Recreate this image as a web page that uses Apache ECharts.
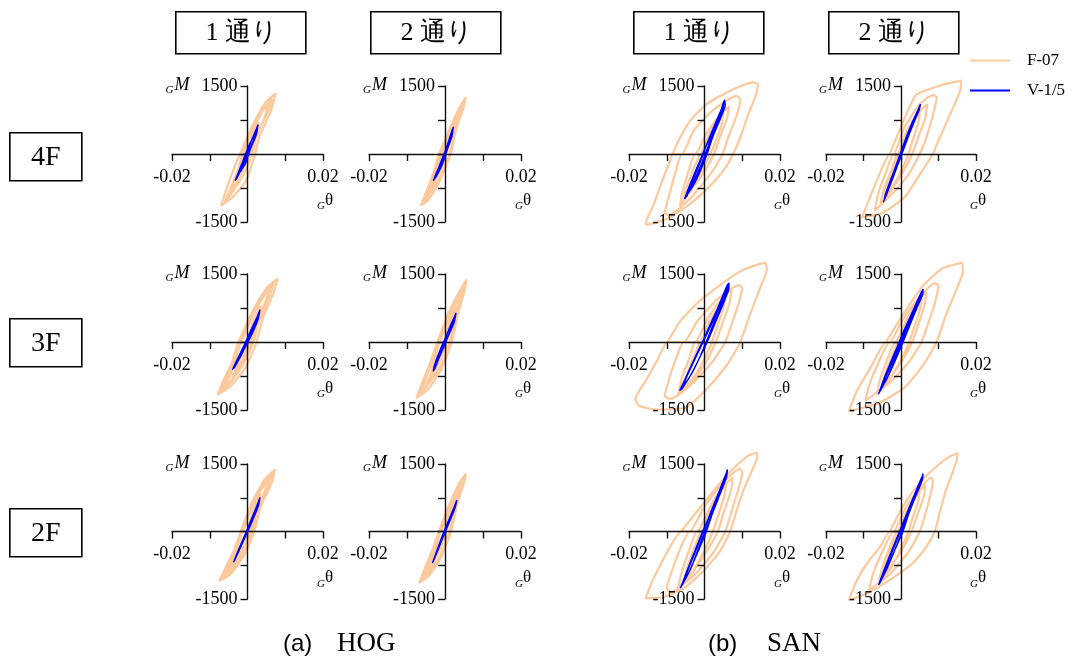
<!DOCTYPE html>
<html>
<head>
<meta charset="utf-8">
<script src="https://cdn.jsdelivr.net/npm/echarts@6/dist/echarts.min.js"></script>
<style>
  html, body { margin: 0; padding: 0; background: #fff; }
  #chart { width: 1076px; height: 661px; }
</style>
</head>
<body>
<div id="chart"></div>
<script>
// ---- labels ----
const columnTitles = ['1 通り', '2 通り', '1 通り', '2 通り'];
const floorLabels = ['4F', '3F', '2F'];
const groupCaptions = [['(a)', 'HOG'], ['(b)', 'SAN']];
const seriesNames = ['F-07', 'V-1/5'];
const thetaTickLabels = ['-0.02', '0.02'];
const momentTickLabels = ['-1500', '1500'];
const thetaRange = [-0.02, 0.02, 0.01];
const momentRange = [-1500, 1500, 750];

// ---- hysteresis traces [θ, M] ----
// HOG, 1通り
const hog1_4F_f07 = [[-0.0020,0],[0.0013,625],[0.0048,1140],[0.0075,1338],[0.0062,950],[0.0031,370],[0.0020,0],[-0.0004,-590],[-0.0040,-955],[-0.0070,-1140],[-0.0048,-590],[-0.0020,0],
  [0.0000,300],[0.0035,900],[0.0055,1120],[0.0045,800],[0.0012,150],[-0.0015,-400],[-0.0050,-960],[-0.0035,-600],[-0.0012,-120],[0.0000,300],
  [-0.0012,0],[0.0010,450],[0.0040,950],[0.0065,1220],[0.0055,950],[0.0025,420],[0.0012,0],[-0.0010,-450],[-0.0045,-900],[-0.0060,-1050],[-0.0042,-700],[-0.0025,-350],[-0.0012,0],
  [-0.0005,0],[0.0015,420],[0.0030,700],[0.0022,450],[0.0005,0],[-0.0015,-380],[-0.0030,-650],[-0.0020,-400],[-0.0005,0]];
const hog1_4F_v15 = [[-0.0033,-590],[-0.0012,-150],[0.0004,200],[0.0016,380],[0.0028,650],[0.0023,420],[0.0008,120],[-0.0006,-220],[-0.0020,-400],[-0.0033,-590],
  [-0.0025,-470],[-0.0005,-60],[0.0012,330],[0.0022,520],[0.0016,300],[0.0000,0],[-0.0015,-320],[-0.0025,-470],
  [-0.0030,-560],[-0.0008,-120],[0.0008,250],[0.0026,600],[0.0020,400],[0.0004,60],[-0.0012,-260],[-0.0030,-560]];
const hog1_3F_f07 = [[-0.0024,0],[0.0010,620],[0.0050,1180],[0.0079,1397],[0.0070,1100],[0.0040,520],[0.0024,0],[-0.0005,-560],[-0.0045,-980],[-0.0079,-1160],[-0.0060,-780],[-0.0040,-420],[-0.0024,0],
  [-0.0010,200],[0.0030,850],[0.0060,1230],[0.0050,950],[0.0020,330],[0.0005,-120],[-0.0030,-700],[-0.0065,-1070],[-0.0045,-720],[-0.0010,200],
  [-0.0016,0],[0.0015,600],[0.0050,1100],[0.0070,1300],[0.0058,1000],[0.0028,420],[0.0016,0],[-0.0012,-500],[-0.0050,-950],[-0.0070,-1100],[-0.0050,-700],[-0.0030,-320],[-0.0016,0],
  [-0.0006,0],[0.0015,450],[0.0035,800],[0.0026,500],[0.0006,0],[-0.0018,-450],[-0.0040,-780],[-0.0026,-480],[-0.0006,0]];
const hog1_3F_v15 = [[-0.0040,-610],[-0.0020,-280],[0.0000,50],[0.0018,380],[0.0033,713],[0.0028,500],[0.0012,180],[-0.0008,-150],[-0.0025,-420],[-0.0040,-610],
  [-0.0030,-430],[-0.0010,-90],[0.0010,280],[0.0026,560],[0.0020,380],[0.0003,60],[-0.0018,-320],[-0.0032,-520],
  [-0.0036,-580],[-0.0016,-220],[0.0004,130],[0.0022,460],[0.0030,650],[0.0024,440],[0.0006,100],[-0.0014,-250],[-0.0036,-580]];
const hog1_2F_f07 = [[-0.0018,0],[0.0012,650],[0.0045,1150],[0.0073,1375],[0.0065,1100],[0.0035,550],[0.0018,0],[-0.0008,-520],[-0.0045,-950],[-0.0075,-1100],[-0.0055,-750],[-0.0035,-400],[-0.0018,0],
  [-0.0006,200],[0.0030,850],[0.0058,1180],[0.0045,880],[0.0018,330],[0.0002,-100],[-0.0030,-650],[-0.0062,-1000],[-0.0040,-650],[-0.0006,200],
  [-0.0012,0],[0.0015,600],[0.0048,1100],[0.0066,1300],[0.0055,1000],[0.0026,450],[0.0012,0],[-0.0012,-480],[-0.0048,-920],[-0.0068,-1060],[-0.0048,-700],[-0.0028,-330],[-0.0012,0],
  [-0.0004,0],[0.0015,450],[0.0035,850],[0.0026,550],[0.0006,0],[-0.0016,-420],[-0.0040,-750],[-0.0026,-450],[-0.0004,0]];
const hog1_2F_v15 = [[-0.0037,-683],[-0.0018,-330],[0.0000,20],[0.0018,400],[0.0033,757],[0.0030,600],[0.0014,260],[-0.0004,-80],[-0.0022,-420],[-0.0037,-683],
  [-0.0025,-430],[-0.0006,-60],[0.0012,300],[0.0028,640],
  [-0.0034,-640],[-0.0014,-260],[0.0004,100],[0.0020,440],[0.0032,720],[0.0026,520],[0.0008,140],[-0.0012,-220],[-0.0034,-640]];
// HOG, 2通り
const hog2_4F_f07 = [[-0.0016,0],[0.0020,700],[0.0043,1100],[0.0055,1250],[0.0048,1000],[0.0030,580],[0.0015,0],[-0.0020,-700],[-0.0045,-1020],[-0.0064,-1140],[-0.0050,-850],[-0.0032,-450],[-0.0016,0],
  [-0.0005,200],[0.0025,780],[0.0040,1000],[0.0028,650],[0.0008,150],[-0.0020,-500],[-0.0048,-930],[-0.0030,-550],[-0.0005,200],
  [-0.0010,0],[0.0018,600],[0.0048,1150],[0.0040,900],[0.0012,0],[-0.0015,-550],[-0.0055,-1050],[-0.0040,-750],[-0.0010,0],
  [-0.0004,100],[0.0012,450],[0.0028,750],[0.0020,480],[0.0004,0],[-0.0015,-420],[-0.0032,-700],[-0.0020,-400],[-0.0004,100]];
const hog2_4F_v15 = [[-0.0031,-590],[-0.0012,-200],[0.0003,120],[0.0014,350],[0.0022,600],[0.0018,380],[0.0006,100],[-0.0008,-250],[-0.0022,-480],[-0.0031,-590],
  [-0.0020,-360],[0.0000,50],[0.0015,420],[0.0010,220],[-0.0010,-200],[-0.0025,-500],
  [-0.0028,-540],[-0.0006,-80],[0.0010,300],[0.0020,560],[0.0014,320],[-0.0004,-100],[-0.0018,-380],[-0.0028,-540]];
const hog2_3F_f07 = [[-0.0020,0],[0.0010,650],[0.0040,1150],[0.0057,1375],[0.0052,1150],[0.0035,650],[0.0018,0],[-0.0010,-600],[-0.0045,-1050],[-0.0075,-1235],[-0.0060,-900],[-0.0040,-480],[-0.0020,0],
  [-0.0008,250],[0.0022,850],[0.0045,1180],[0.0035,850],[0.0010,200],[-0.0015,-450],[-0.0055,-1050],[-0.0035,-650],[-0.0008,250],
  [-0.0014,0],[0.0014,600],[0.0040,1050],[0.0052,1250],[0.0044,950],[0.0026,480],[0.0012,0],[-0.0014,-560],[-0.0050,-1000],[-0.0066,-1150],[-0.0048,-750],[-0.0030,-350],[-0.0014,0],
  [-0.0005,0],[0.0012,420],[0.0030,800],[0.0022,500],[0.0005,0],[-0.0016,-450],[-0.0036,-800],[-0.0024,-480],[-0.0005,0]];
const hog2_3F_v15 = [[-0.0031,-647],[-0.0024,-420],[-0.0008,-80],[0.0010,260],[0.0029,640],[0.0024,430],[0.0008,120],[-0.0010,-230],[-0.0020,-430],[-0.0031,-647],
  [-0.0028,-520],[-0.0012,-180],[0.0006,180],[0.0020,460],[0.0016,300],[-0.0002,-60],[-0.0018,-380],[-0.0030,-600],
  [-0.0029,-620],[-0.0020,-440],[-0.0004,-40],[0.0014,360],[0.0026,580],[0.0020,380],[0.0002,0],[-0.0014,-320],[-0.0029,-620]];
const hog2_2F_f07 = [[-0.0016,0],[0.0012,620],[0.0038,1080],[0.0055,1286],[0.0050,1080],[0.0032,600],[0.0016,0],[-0.0012,-600],[-0.0042,-980],[-0.0068,-1140],[-0.0052,-800],[-0.0034,-420],[-0.0016,0],
  [-0.0005,250],[0.0022,800],[0.0042,1100],[0.0032,780],[0.0008,180],[-0.0015,-420],[-0.0052,-1000],[-0.0032,-600],[-0.0005,250],
  [-0.0010,0],[0.0016,600],[0.0040,1050],[0.0050,1200],[0.0044,980],[0.0026,520],[0.0012,0],[-0.0014,-560],[-0.0045,-950],[-0.0060,-1080],[-0.0044,-750],[-0.0028,-380],[-0.0010,0],
  [-0.0004,0],[0.0012,450],[0.0028,780],[0.0020,500],[0.0004,0],[-0.0016,-450],[-0.0034,-760],[-0.0022,-450],[-0.0004,0]];
const hog2_2F_v15 = [[-0.0033,-698],[-0.0016,-340],[0.0000,20],[0.0016,360],[0.0031,698],[0.0027,540],[0.0012,220],[-0.0004,-100],[-0.0020,-440],[-0.0033,-698],
  [-0.0022,-440],[-0.0004,-30],[0.0014,340],[0.0026,580],
  [-0.0031,-660],[-0.0012,-260],[0.0004,90],[0.0020,440],[0.0030,670],[0.0024,480],[0.0008,140],[-0.0010,-220],[-0.0031,-660]];
// SAN, 1通り
const san1_4F_f07 = [[-0.0085,0],[-0.0069,294],[-0.0038,735],[0.0006,1102],[0.0068,1396],[0.0129,1580],[0.0142,1543],[0.0134,1250],[0.0116,882],[0.0098,441],[0.0076,0],[0.0050,-368],[0.0015,-698],[-0.0038,-1102],[-0.0091,-1396],[-0.0152,-1558],[-0.0156,-1540],[-0.0134,-1102],[-0.0112,-588],[-0.0091,-147],[-0.0085,0],
  [-0.0060,0],[-0.0030,500],[0.0020,950],[0.0085,1280],[0.0095,1200],[0.0085,850],[0.0060,300],[0.0048,0],[0.0015,-450],[-0.0040,-1000],[-0.0095,-1350],[-0.0105,-1300],[-0.0090,-800],[-0.0075,-350],[-0.0060,0],
  [-0.0025,0],[0.0005,450],[0.0040,850],[0.0065,1050],[0.0060,800],[0.0040,350],[0.0025,0],[-0.0005,-450],[-0.0040,-850],[-0.0065,-1150],[-0.0060,-900],[-0.0045,-450],[-0.0025,0],
  [-0.0012,0],[0.0010,380],[0.0035,750],[0.0050,900],[0.0045,650],[0.0028,250],[0.0015,0],[-0.0008,-400],[-0.0035,-800],[-0.0055,-1000],[-0.0048,-750],[-0.0030,-350],[-0.0012,0]];
const san1_4F_v15 = [[-0.0053,-992],[-0.0040,-700],[-0.0015,-200],[0.0000,100],[0.0020,450],[0.0040,850],[0.0053,1190],[0.0055,1080],[0.0042,780],[0.0020,330],[0.0007,0],[-0.0010,-350],[-0.0030,-700],[-0.0050,-950],
  [-0.0046,-920],[-0.0030,-560],[-0.0010,-150],[0.0010,300],[0.0030,700],[0.0048,1050],[0.0040,800],[0.0020,400],[0.0000,-50],[-0.0020,-450],[-0.0040,-800],[-0.0053,-992],
  [-0.0050,-960],[-0.0035,-650],[-0.0012,-180],[0.0005,200],[0.0025,580],[0.0045,950],[0.0052,1150],[0.0046,900],[0.0028,550],[0.0012,150],[-0.0008,-300],[-0.0028,-640],[-0.0050,-960]];
const san1_3F_f07 = [[-0.0098,0],[-0.0065,450],[-0.0020,850],[0.0040,1250],[0.0100,1580],[0.0160,1746],[0.0165,1600],[0.0150,1250],[0.0120,600],[0.0095,0],[0.0060,-500],[0.0010,-1000],[-0.0050,-1450],[-0.0130,-1490],[-0.0175,-1400],[-0.0183,-1250],[-0.0155,-850],[-0.0125,-400],[-0.0098,0],
  [-0.0055,0],[-0.0020,450],[0.0035,950],[0.0090,1250],[0.0100,1200],[0.0092,900],[0.0070,350],[0.0055,0],[0.0020,-450],[-0.0030,-900],[-0.0090,-1250],[-0.0105,-1200],[-0.0095,-850],[-0.0075,-350],[-0.0055,0],
  [-0.0025,0],[0.0010,550],[0.0050,1000],[0.0072,1150],[0.0066,850],[0.0045,350],[0.0030,0],[0.0000,-500],[-0.0040,-950],[-0.0070,-1150],[-0.0060,-800],[-0.0040,-350],[-0.0025,0],
  [-0.0012,0],[0.0010,400],[0.0038,800],[0.0055,1000],[0.0050,750],[0.0032,300],[0.0020,0],[-0.0005,-450],[-0.0035,-850],[-0.0058,-1050],[-0.0048,-750],[-0.0030,-350],[-0.0012,0]];
const san1_3F_v15 = [[-0.0066,-1077],[-0.0045,-700],[-0.0020,-250],[0.0000,100],[0.0025,550],[0.0045,950],[0.0060,1250],[0.0065,1300],[0.0064,1150],[0.0050,850],[0.0030,450],[0.0010,50],[-0.0015,-380],[-0.0040,-780],[-0.0062,-1060],
  [-0.0050,-820],[-0.0025,-350],[0.0000,80],[0.0025,500],[0.0048,950],[0.0058,1200],[0.0052,1000],
  [-0.0064,-1060],[-0.0040,-620],[-0.0012,-130],[0.0012,330],[0.0038,800],[0.0056,1150],[0.0064,1280],[0.0058,1080],[0.0040,700],[0.0018,280],[-0.0008,-250],[-0.0034,-700],[-0.0064,-1060]];
const san1_2F_f07 = [[-0.0062,0],[-0.0011,540],[0.0033,990],[0.0068,1330],[0.0112,1665],[0.0138,1755],[0.0140,1650],[0.0130,1440],[0.0103,915],[0.0085,465],[0.0068,0],[0.0041,-435],[-0.0003,-885],[-0.0055,-1260],[-0.0108,-1455],[-0.0156,-1485],[-0.0139,-1110],[-0.0112,-660],[-0.0082,-210],[-0.0062,0],
  [-0.0040,0],[0.0000,550],[0.0050,1100],[0.0095,1400],[0.0100,1300],[0.0090,950],[0.0070,400],[0.0055,0],[0.0025,-450],[-0.0025,-950],[-0.0090,-1350],[-0.0100,-1250],[-0.0085,-850],[-0.0065,-400],[-0.0040,0],
  [-0.0020,0],[0.0015,550],[0.0050,1000],[0.0075,1200],[0.0070,900],[0.0050,400],[0.0035,0],[0.0005,-450],[-0.0040,-1000],[-0.0070,-1250],[-0.0060,-900],[-0.0040,-400],[-0.0020,0],
  [-0.0010,0],[0.0015,450],[0.0040,850],[0.0058,1050],[0.0052,780],[0.0035,320],[0.0022,0],[-0.0002,-450],[-0.0032,-900],[-0.0055,-1150],[-0.0046,-800],[-0.0028,-380],[-0.0010,0]];
const san1_2F_v15 = [[-0.0064,-1260],[-0.0045,-880],[-0.0020,-350],[0.0000,60],[0.0025,600],[0.0045,1000],[0.0061,1380],[0.0058,1200],[0.0042,850],[0.0020,380],[0.0005,0],[-0.0020,-500],[-0.0042,-920],[-0.0062,-1230],
  [-0.0050,-950],[-0.0025,-420],[-0.0005,0],[0.0020,480],[0.0040,880],[0.0058,1300],
  [-0.0062,-1230],[-0.0040,-780],[-0.0014,-230],[0.0010,280],[0.0034,780],[0.0052,1180],[0.0060,1340],[0.0050,1060],[0.0030,620],[0.0010,180],[-0.0014,-330],[-0.0036,-820],[-0.0062,-1230]];
// SAN, 2通り
const san2_4F_f07 = [[-0.0030,0],[-0.0005,500],[0.0040,1300],[0.0100,1500],[0.0160,1617],[0.0158,1400],[0.0135,950],[0.0100,300],[0.0085,0],[0.0050,-450],[0.0010,-950],[-0.0050,-1300],[-0.0104,-1397],[-0.0080,-900],[-0.0050,-300],[-0.0030,0],
  [-0.0020,0],[0.0010,600],[0.0050,1100],[0.0085,1300],[0.0095,1250],[0.0085,850],[0.0065,300],[0.0050,0],[0.0020,-450],[-0.0020,-850],[-0.0070,-1250],[-0.0060,-850],[-0.0040,-400],[-0.0020,0],
  [-0.0010,0],[0.0015,500],[0.0045,900],[0.0070,1100],[0.0065,800],[0.0045,350],[0.0030,0],[0.0005,-400],[-0.0030,-850],[-0.0055,-1100],[-0.0045,-750],[-0.0025,-350],[-0.0010,0],
  [-0.0005,0],[0.0015,420],[0.0035,750],[0.0050,900],[0.0045,650],[0.0030,280],[0.0020,0],[0.0000,-380],[-0.0025,-750],[-0.0045,-1000],[-0.0038,-700],[-0.0020,-300],[-0.0005,0]];
const san2_4F_v15 = [[-0.0047,-1066],[-0.0030,-650],[-0.0010,-200],[0.0005,150],[0.0025,600],[0.0045,950],[0.0052,1102],[0.0048,960],[0.0030,620],[0.0010,200],[-0.0005,-150],[-0.0025,-600],[-0.0045,-1000],
  [-0.0040,-850],[-0.0020,-400],[0.0000,50],[0.0020,500],[0.0040,850],
  [-0.0045,-1020],[-0.0028,-600],[-0.0008,-150],[0.0010,260],[0.0030,700],[0.0050,1060],[0.0042,850],[0.0024,480],[0.0004,40],[-0.0018,-450],[-0.0038,-880],[-0.0045,-1020]];
const san2_3F_f07 = [[-0.0040,0],[0.0005,600],[0.0060,1250],[0.0110,1620],[0.0163,1746],[0.0165,1550],[0.0150,1200],[0.0120,600],[0.0095,0],[0.0060,-500],[0.0010,-1000],[-0.0060,-1350],[-0.0139,-1523],[-0.0117,-1070],[-0.0081,-560],[-0.0040,0],
  [-0.0030,0],[0.0005,500],[0.0050,1000],[0.0090,1300],[0.0100,1250],[0.0090,850],[0.0070,350],[0.0055,0],[0.0020,-450],[-0.0030,-900],[-0.0095,-1300],[-0.0085,-950],[-0.0060,-450],[-0.0030,0],
  [-0.0015,0],[0.0015,500],[0.0050,950],[0.0068,1100],[0.0062,800],[0.0045,350],[0.0030,0],[0.0000,-450],[-0.0040,-900],[-0.0065,-1150],[-0.0055,-800],[-0.0035,-350],[-0.0015,0],
  [-0.0008,0],[0.0015,420],[0.0040,800],[0.0055,950],[0.0050,700],[0.0034,300],[0.0022,0],[0.0000,-400],[-0.0030,-820],[-0.0052,-1050],[-0.0044,-750],[-0.0025,-320],[-0.0008,0]];
const san2_3F_v15 = [[-0.0060,-1152],[-0.0040,-700],[-0.0015,-200],[0.0005,200],[0.0030,650],[0.0050,1000],[0.0059,1167],[0.0058,1050],[0.0045,800],[0.0025,400],[0.0008,50],[-0.0015,-400],[-0.0040,-850],[-0.0058,-1100],
  [-0.0045,-800],[-0.0020,-300],[0.0000,80],[0.0025,550],[0.0045,900],[0.0055,1100],
  [-0.0058,-1120],[-0.0035,-620],[-0.0010,-120],[0.0012,320],[0.0035,750],[0.0055,1120],[0.0050,950],[0.0032,600],[0.0012,200],[-0.0010,-250],[-0.0035,-760],[-0.0058,-1120]];
const san2_2F_f07 = [[-0.0030,0],[0.0005,560],[0.0050,1080],[0.0095,1450],[0.0130,1670],[0.0151,1746],[0.0149,1600],[0.0140,1370],[0.0120,930],[0.0103,410],[0.0090,0],[0.0068,-335],[0.0032,-700],[-0.0029,-1070],[-0.0090,-1370],[-0.0139,-1523],[-0.0117,-1070],[-0.0090,-700],[-0.0055,-330],[-0.0030,0],
  [-0.0020,0],[0.0010,500],[0.0050,950],[0.0080,1200],[0.0085,1100],[0.0075,700],[0.0060,250],[0.0050,0],[0.0020,-450],[-0.0030,-950],[-0.0085,-1300],[-0.0075,-950],[-0.0050,-450],[-0.0020,0],
  [-0.0010,0],[0.0015,450],[0.0045,850],[0.0065,1050],[0.0060,750],[0.0042,330],[0.0028,0],[0.0000,-450],[-0.0035,-850],[-0.0060,-1150],[-0.0050,-800],[-0.0030,-350],[-0.0010,0],
  [-0.0005,0],[0.0015,400],[0.0035,750],[0.0050,900],[0.0045,650],[0.0030,280],[0.0020,0],[-0.0002,-420],[-0.0030,-850],[-0.0050,-1050],[-0.0042,-750],[-0.0024,-330],[-0.0005,0]];
const san2_2F_v15 = [[-0.0060,-1189],[-0.0040,-780],[-0.0015,-250],[0.0005,180],[0.0030,700],[0.0050,1080],[0.0059,1285],[0.0056,1120],[0.0040,800],[0.0020,380],[0.0005,0],[-0.0020,-480],[-0.0042,-900],[-0.0059,-1170],
  [-0.0045,-850],[-0.0020,-330],[0.0000,80],[0.0025,600],[0.0045,980],[0.0057,1230],
  [-0.0058,-1170],[-0.0036,-680],[-0.0010,-130],[0.0012,330],[0.0036,820],[0.0055,1200],[0.0050,1030],[0.0032,640],[0.0012,220],[-0.0010,-280],[-0.0036,-800],[-0.0058,-1170]];

// panel table: [column, row, F-07 trace, V-1/5 trace]
const panels = [
  [0, 0, hog1_4F_f07, hog1_4F_v15], [1, 0, hog2_4F_f07, hog2_4F_v15], [2, 0, san1_4F_f07, san1_4F_v15], [3, 0, san2_4F_f07, san2_4F_v15],
  [0, 1, hog1_3F_f07, hog1_3F_v15], [1, 1, hog2_3F_f07, hog2_3F_v15], [2, 1, san1_3F_f07, san1_3F_v15], [3, 1, san2_3F_f07, san2_3F_v15],
  [0, 2, hog1_2F_f07, hog1_2F_v15], [1, 2, hog2_2F_f07, hog2_2F_v15], [2, 2, san1_2F_f07, san1_2F_v15], [3, 2, san2_2F_f07, san2_2F_v15]
];

// ---- layout ----
const colLeft = [172, 369, 629, 826];
const colWidth = [151, 152, 151, 150];
const rowTop = [86, 274, 464];
const rowHeight = [136, 136, 135];
const titleBoxLeft = [175, 370, 633, 828];
const floorBoxTop = [132, 318, 508];
const captionLeft = [[283, 337], [708, 767]];

const SERIF = '"Liberation Serif", "Times New Roman", serif';
const SANS = '"Liberation Sans", Arial, sans-serif';
const PEACH = '#FCC99C';
const BLUE = '#0000FF';

const grids = [], xAxes = [], yAxes = [], series = [], graphics = [];

panels.forEach(([c, r, f07, v15], i) => {
  grids.push({ left: colLeft[c], top: rowTop[r], width: colWidth[c], height: rowHeight[r] });
  // both axes pass through the origin, which sits at the middle of the symmetric ranges;
  // axes are layered between the F-07 loops (below) and the V-1/5 loops (above)
  xAxes.push({
    gridIndex: i, type: 'value', min: thetaRange[0], max: thetaRange[1], interval: thetaRange[2],
    position: 'bottom', offset: -rowHeight[r] / 2, z: 2,
    axisLine: { onZero: false, lineStyle: { color: '#111', width: 1.4 } },
    axisTick: { length: 7, lineStyle: { color: '#111', width: 1.4 } },
    splitLine: { show: false },
    axisLabel: {
      color: '#000', fontFamily: SERIF, fontSize: 18, margin: 14,
      formatter: v => Math.abs(v - thetaRange[0]) < 1e-9 ? thetaTickLabels[0] : (Math.abs(v - thetaRange[1]) < 1e-9 ? thetaTickLabels[1] : '')
    }
  });
  yAxes.push({
    gridIndex: i, type: 'value', min: momentRange[0], max: momentRange[1], interval: momentRange[2],
    position: 'left', offset: -colWidth[c] / 2, z: 2,
    axisLine: { onZero: false, lineStyle: { color: '#111', width: 1.4 } },
    axisTick: { length: 7, lineStyle: { color: '#111', width: 1.4 } },
    splitLine: { show: false },
    axisLabel: {
      color: '#000', fontFamily: SERIF, fontSize: 18, margin: 10,
      formatter: v => v === momentRange[0] ? momentTickLabels[0] : (v === momentRange[1] ? momentTickLabels[1] : '')
    }
  });
  series.push({
    name: seriesNames[0], type: 'line', xAxisIndex: i, yAxisIndex: i, data: f07,
    smooth: 0.18, symbol: 'none', showSymbol: false, clip: false, z: 1,
    lineStyle: { color: PEACH, width: 2.2 }, itemStyle: { color: PEACH }
  });
  series.push({
    name: seriesNames[1], type: 'line', xAxisIndex: i, yAxisIndex: i, data: v15,
    smooth: 0.18, symbol: 'none', showSymbol: false, clip: false, z: 3,
    lineStyle: { color: BLUE, width: 1.4 }, itemStyle: { color: BLUE }
  });

  // axis names: _G M beside the top of the moment axis, _G θ under the right end of the rotation axis
  const axisX = colLeft[c] + colWidth[c] / 2;
  const axisY = rowTop[r] + rowHeight[r] / 2;
  const right = colLeft[c] + colWidth[c];
  graphics.push(
    { type: 'text', left: axisX - 82, top: rowTop[r] - 1, z: 10,
      style: { text: 'G', font: 'italic 11px ' + SERIF, fill: '#000' } },
    { type: 'text', left: axisX - 73, top: rowTop[r] - 10, z: 10,
      style: { text: 'M', font: 'italic 18px ' + SERIF, fill: '#000' } },
    { type: 'text', left: right - 6, top: axisY + 47, z: 10,
      style: { text: 'G', font: 'italic 11px ' + SERIF, fill: '#000' } },
    { type: 'text', left: right + 2, top: axisY + 38, z: 10,
      style: { text: 'θ', font: '17px ' + SERIF, fill: '#000' } }
  );
});

// column header boxes
columnTitles.forEach((t, k) => {
  graphics.push({
    type: 'group', left: titleBoxLeft[k], top: 11,
    children: [
      { type: 'rect', shape: { x: 0, y: 0, width: 130, height: 42 }, style: { fill: '#fff', stroke: '#000', lineWidth: 1.6 } },
      { type: 'text', x: 66, y: 21, style: { text: t, font: '26px ' + SERIF, fill: '#000', textAlign: 'center', textVerticalAlign: 'middle' } }
    ]
  });
});

// floor boxes
floorLabels.forEach((t, k) => {
  graphics.push({
    type: 'group', left: 9, top: floorBoxTop[k],
    children: [
      { type: 'rect', shape: { x: 0, y: 0, width: 72, height: 48 }, style: { fill: '#fff', stroke: '#000', lineWidth: 1.6 } },
      { type: 'text', x: 36, y: 25, style: { text: t, font: '28px ' + SERIF, fill: '#000', textAlign: 'center', textVerticalAlign: 'middle' } }
    ]
  });
});

// group captions
groupCaptions.forEach(([tag, name], k) => {
  graphics.push(
    { type: 'text', left: captionLeft[k][0], top: 632, style: { text: tag, font: '24px ' + SANS, fill: '#000' } },
    { type: 'text', left: captionLeft[k][1], top: 630, style: { text: name, font: '27px ' + SERIF, fill: '#000' } }
  );
});

const chart = echarts.init(document.getElementById('chart'), null, { renderer: 'canvas' });
chart.setOption({
  animation: false,
  backgroundColor: '#fff',
  grid: grids,
  xAxis: xAxes,
  yAxis: yAxes,
  series: series,
  legend: {
    data: seriesNames.map(n => ({ name: n, icon: 'rect' })),
    orient: 'vertical', left: 965, top: 47,
    itemWidth: 40, itemHeight: 2, itemGap: 13,
    textStyle: { color: '#000', fontFamily: SERIF, fontSize: 17, padding: [0, 0, 0, 12] }
  },
  graphic: graphics
});
</script>
</body>
</html>
